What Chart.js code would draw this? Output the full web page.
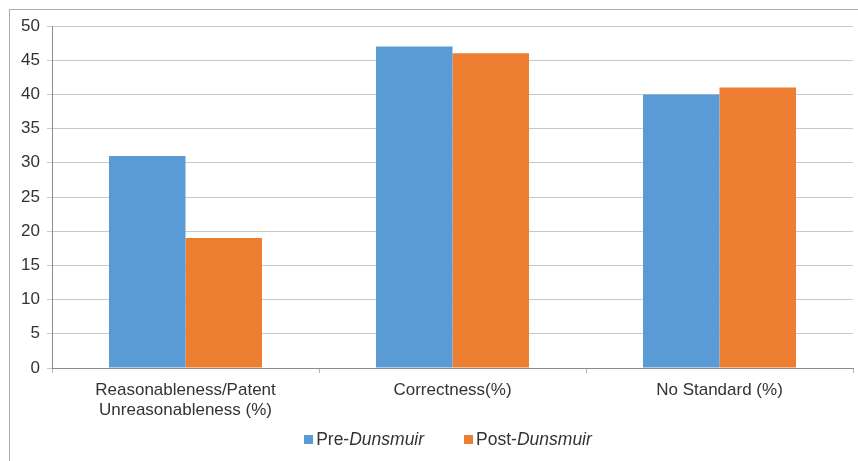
<!DOCTYPE html>
<html>
<head>
<meta charset="utf-8">
<script src="https://cdn.jsdelivr.net/npm/chart.js@4.4.1/dist/chart.umd.min.js"></script>
<style>
  body { margin: 0; background: #fff; font-family: "Liberation Sans", Arial, sans-serif; }
  #wrap { position: relative; width: 858px; height: 461px; overflow: hidden; }
  #frame { position: absolute; left: 9px; top: 9px; width: 900px; height: 500px; border: 1px solid #aaaaaa; }
  #barplot { position: absolute; left: 0; top: 0; }
  #legend { position: absolute; top: 429px; left: 19px; width: 858px; text-align: center; font-size: 17.5px; color: #333; }
  .item { display: inline-block; margin: 0 20px; }
  .box { display: inline-block; width: 9px; height: 9px; margin-right: 3px; vertical-align: 1px; }
</style>
</head>
<body>
<div id="wrap">
  <div id="frame"></div>
  <canvas id="barplot" width="858" height="461"></canvas>
  <div id="legend"></div>
</div>
<script>
const categories = [
  ['Reasonableness/Patent', 'Unreasonableness (%)'],
  'Correctness(%)',
  'No Standard (%)'
];
const preValues = [31, 47, 40];
const postValues = [19, 46, 41];
const seriesNames = [['Pre-', 'Dunsmuir'], ['Post-', 'Dunsmuir']];
const seriesColors = ['#5b9bd5', '#ed7d31'];

// html legend so the italic part can stay italic
let legend = document.getElementById('legend');
for (let i = 0; i < seriesNames.length; i++) {
  legend.innerHTML += '<span class="item"><span class="box" style="background:' + seriesColors[i] + '"></span>' +
    seriesNames[i][0] + '<i>' + seriesNames[i][1] + '</i></span>';
}

const data = {
  labels: categories,
  datasets: [{
    label: seriesNames[0].join(''),
    data: preValues,
    backgroundColor: seriesColors[0],
    categoryPercentage: 0.573,
    barPercentage: 1
  }, {
    label: seriesNames[1].join(''),
    data: postValues,
    backgroundColor: seriesColors[1],
    categoryPercentage: 0.573,
    barPercentage: 1
  }]
};

const config = {
  type: 'bar',
  data: data,
  options: {
    responsive: false,
    animation: false,
    layout: { padding: { top: 26, right: 5, left: 0, bottom: 0 } },
    plugins: { legend: { display: false }, tooltip: { enabled: false } },
    scales: {
      x: {
        afterFit: function(scale) { scale.height = 93; },
        grid: { offset: true, drawOnChartArea: false, drawTicks: true, tickLength: 5, color: '#b4b4b4' },
        border: { color: '#8c8c8c', width: 1 },
        ticks: { color: '#333', font: { family: 'Liberation Sans', size: 17 }, padding: 7, maxRotation: 0, autoSkip: false }
      },
      y: {
        min: 0,
        max: 50,
        afterFit: function(scale) { scale.width = 52; },
        grid: { color: '#c8c8c8', tickLength: 5 },
        border: { color: '#8c8c8c', width: 1 },
        ticks: { stepSize: 5, color: '#333', font: { family: 'Liberation Sans', size: 17 }, padding: 7 }
      }
    }
  }
};

const myChart = new Chart(document.getElementById('barplot'), config);
</script>
</body>
</html>
